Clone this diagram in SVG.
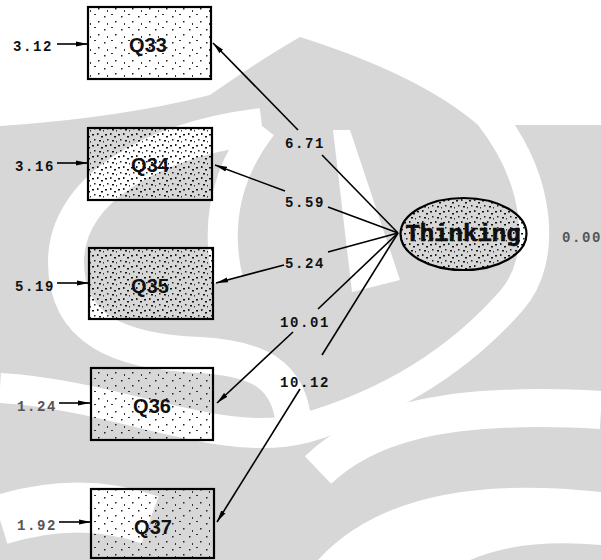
<svg xmlns="http://www.w3.org/2000/svg" width="601" height="560" viewBox="0 0 601 560">
<style>
.num{font-family:"Liberation Mono","DejaVu Sans Mono",monospace;font-weight:bold;font-size:14px;letter-spacing:1.6px;fill:#111}
.faded{fill:#555}
.box{stroke:#000;stroke-width:2.2}
.lbl{font-family:"Liberation Sans",Arial,sans-serif;font-weight:bold;font-size:20px;fill:#111;text-anchor:middle}
.con{stroke:#000;stroke-width:1.6;fill:none}
.wm{stroke:#fff;fill:none}
</style>
<defs>
<pattern id="sparse" width="17" height="13" patternUnits="userSpaceOnUse">
<rect x="2" y="3" width="1.5" height="1.5" fill="#222"/>
<rect x="9" y="1" width="2" height="1" fill="#333"/>
<rect x="13" y="8" width="1.5" height="1.5" fill="#222"/>
<rect x="5" y="10" width="1" height="2" fill="#333"/>
</pattern>
<pattern id="dense" width="13" height="11" patternUnits="userSpaceOnUse">
<rect x="1" y="2" width="2" height="1.5" fill="#111"/>
<rect x="6" y="1" width="1.5" height="2" fill="#222"/>
<rect x="10" y="4" width="2" height="1.5" fill="#111"/>
<rect x="3" y="7" width="1.5" height="1.5" fill="#222"/>
<rect x="8" y="8" width="2" height="1.5" fill="#111"/>
<rect x="12" y="9" width="1" height="1.5" fill="#333"/>
</pattern>
<marker id="ah" viewBox="0 0 12 6" refX="12" refY="3" markerWidth="12" markerHeight="6" markerUnits="userSpaceOnUse" orient="auto">
<path d="M0,0.5 L12,3 L0,5.5 Z" fill="#000"/>
</marker>
</defs>

<g id="watermark">
<path d="M0,126 Q120,118 210,95 Q260,60 300,37 Q420,75 478,125 L601,125 L601,560 L0,560 Z" fill="#d7d7d7"/>
<path class="wm" stroke-width="30" d="M490,116 C540,180 548,258 512,300 C455,365 385,405 305,428 C220,450 120,395 0,388"/>
<path class="wm" stroke-width="36" d="M262,126 C150,140 66,190 66,262 C66,330 120,352 200,355 C255,358 292,372 294,430"/>
<path class="wm" stroke-width="30" d="M262,126 C228,170 214,220 228,280"/>
<path d="M333,130 L350,130 L400,280 L352,292 Z" fill="#fff"/>
<path class="wm" stroke-width="38" d="M318,470 C360,430 430,400 601,410"/>
<path d="M318,560 Q400,470 601,492 L601,545 Q520,538 470,560 Z" fill="#fff"/>
<path class="wm" stroke-width="50" d="M0,520 Q80,495 150,520"/>
</g>

<g id="connectors">
<path class="con" d="M57,44 L88,44" marker-end="url(#ah)"/>
<path class="con" d="M57,163 L88,163" marker-end="url(#ah)"/>
<path class="con" d="M57,283 L89,283" marker-end="url(#ah)"/>
<path class="con" d="M59,403 L90,403" marker-end="url(#ah)"/>
<path class="con" d="M59,522 L91,522" marker-end="url(#ah)"/>
<path class="con" d="M298,130 L213,43" marker-end="url(#ah)"/>
<path class="con" d="M398,233 L322,155"/>
<path class="con" d="M285,191 L215,165" marker-end="url(#ah)"/>
<path class="con" d="M398,233 L328,207"/>
<path class="con" d="M284,265 L216,283" marker-end="url(#ah)"/>
<path class="con" d="M398,233 L328,252"/>
<path class="con" d="M293,332 L217,403" marker-end="url(#ah)"/>
<path class="con" d="M398,233 L318,309"/>
<path class="con" d="M300,389 L217,522" marker-end="url(#ah)"/>
<path class="con" d="M398,233 L322,355"/>
</g>

<g id="Q33"><rect class="box" x="88" y="7" width="123" height="72" fill="url(#sparse)"/><text class="lbl" x="148" y="52">Q33</text></g>
<g id="Q34"><rect class="box" x="88" y="128" width="124" height="72" fill="url(#dense)"/><text class="lbl" x="150" y="172">Q34</text></g>
<g id="Q35"><rect class="box" x="89" y="248" width="124" height="71" fill="url(#dense)"/><text class="lbl" x="150" y="293">Q35</text></g>
<g id="Q36"><rect class="box" x="91" y="368" width="122" height="72" fill="url(#sparse)"/><text class="lbl" x="152" y="413">Q36</text></g>
<g id="Q37"><rect class="box" x="91" y="489" width="123" height="69" fill="url(#sparse)"/><text class="lbl" x="153" y="534">Q37</text></g>

<g id="Thinking">
<ellipse cx="463.5" cy="234" rx="63" ry="36" fill="url(#dense)" stroke="#000" stroke-width="2.2"/>
<text x="463" y="241" font-family="Liberation Mono,'DejaVu Sans Mono',monospace" font-weight="bold" font-size="24" text-anchor="middle" fill="#111" stroke="#000" stroke-width="0.6">Thinking</text>
</g>

<g id="labels">
<text class="num" x="13" y="51">3.12</text>
<text class="num" x="15" y="171">3.16</text>
<text class="num" x="15" y="291">5.19</text>
<text class="num faded" x="17" y="411">1.24</text>
<text class="num faded" x="17" y="530">1.92</text>
<text class="num" x="285" y="148">6.71</text>
<text class="num" x="285" y="207">5.59</text>
<text class="num" x="285" y="268">5.24</text>
<text class="num" x="280" y="327">10.01</text>
<text class="num" x="280" y="387">10.12</text>
<text class="num faded" x="562" y="242">0.00</text>
</g>
</svg>
